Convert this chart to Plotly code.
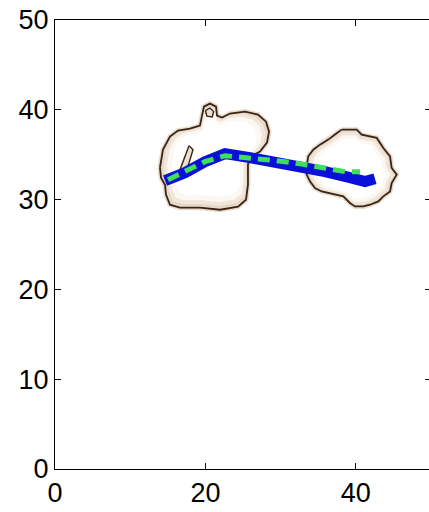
import plotly.graph_objects as go
import numpy as np

# Blob outlines (data units)
blob1_x = [13.96, 14.36, 15.29, 16.36, 17.95, 19.28, 19.55, 19.81, 20.61, 21.41, 21.54, 22.21, 23.27, 25.27,
           26.99, 28.06, 28.46, 28.19, 27.26, 25.93, 25.66, 25.66, 25.40, 24.34, 21.94, 19.28, 16.62, 15.29,
           14.76, 14.63, 14.10]
blob1_y = [33.56, 35.56, 37.01, 37.68, 37.90, 38.24, 39.35, 40.36, 40.69, 40.36, 39.35, 39.13, 39.58, 39.80,
           39.46, 38.68, 37.57, 36.34, 35.34, 34.78, 33.89, 31.66, 29.99, 29.21, 28.87, 29.10, 29.10, 29.43,
           30.55, 31.66, 32.44]
hole1_x = [17.82, 18.35, 17.55, 16.76, 16.62, 17.29]
hole1_y = [36.01, 35.56, 33.33, 32.55, 33.33, 34.89]
knob_x = [20.0, 20.6, 21.1, 20.9, 20.2]
knob_y = [39.9, 40.2, 39.8, 39.2, 39.3]

blob2_x = [38.12, 40.12, 40.78, 42.78, 43.66, 44.55, 44.77, 45.44, 44.77, 44.55, 43.66, 42.99, 41.89, 41.00,
           39.89, 39.23, 38.34, 37.46, 36.34, 35.47, 34.57, 33.91, 33.47, 33.47, 33.68, 34.35, 35.24, 36.34, 37.23]
blob2_y = [37.79, 37.79, 37.24, 36.87, 35.75, 34.82, 33.52, 32.78, 31.85, 30.91, 30.36, 29.80, 29.43, 29.24,
           29.24, 29.62, 30.36, 30.55, 30.74, 30.91, 31.29, 32.03, 32.78, 33.70, 34.82, 35.56, 36.12, 36.68, 37.24]

# Trajectories
blue_x = [14.63, 17.29, 19.95, 22.61, 25.93, 29.26, 32.58, 35.90, 39.23, 41.22, 42.55]
blue_y = [32.11, 33.00, 34.22, 35.12, 34.67, 34.22, 33.67, 33.11, 32.44, 32.00, 32.33]
green_x = [15.03, 17.29, 19.95, 22.61, 25.93, 29.26, 32.58, 35.90, 38.56, 40.56]
green_y = [32.22, 33.11, 34.22, 34.89, 34.67, 34.34, 34.00, 33.56, 33.11, 33.11]

x_ticks = [0, 20, 40]
y_ticks = [0, 10, 20, 30, 40, 50]

fig = go.Figure()


def closed(a):
    return list(a) + [a[0]]


def shrink(xs, ys, f):
    cx, cy = np.mean(xs), np.mean(ys)
    return [cx + (x - cx) * f for x in xs], [cy + (y - cy) * f for y in ys]


for bx, by in [(blob1_x, blob1_y), (blob2_x, blob2_y)]:
    fig.add_trace(go.Scatter(x=closed(bx), y=closed(by), mode="lines", fill="toself",
                             fillcolor="#e2cfbb", line=dict(color="#e8dccf", width=5),
                             hoverinfo="skip", showlegend=False))
    for f, c in [(0.94, "#f1e6da"), (0.87, "#fbf7f2"), (0.78, "#ffffff")]:
        sx, sy = shrink(bx, by, f)
        fig.add_trace(go.Scatter(x=closed(sx), y=closed(sy), mode="lines", fill="toself",
                                 fillcolor=c, line=dict(width=0), hoverinfo="skip", showlegend=False))
    fig.add_trace(go.Scatter(x=closed(bx), y=closed(by), mode="lines",
                             line=dict(color="#3a2414", width=1.8), hoverinfo="skip", showlegend=False))

for hx, hy in [(hole1_x, hole1_y), (knob_x, knob_y)]:
    fig.add_trace(go.Scatter(x=closed(hx), y=closed(hy), mode="lines", fill="toself",
                             fillcolor="#eadfd2", line=dict(color="#3a2414", width=1.4),
                             hoverinfo="skip", showlegend=False))

fig.add_trace(go.Scatter(x=blue_x, y=blue_y, mode="lines",
                         line=dict(color="#0a10d8", width=11), hoverinfo="skip", showlegend=False))
fig.add_trace(go.Scatter(x=green_x, y=green_y, mode="lines",
                         line=dict(color="#3ee05a", width=5, dash="12px,7px"), hoverinfo="skip", showlegend=False))

axis_common = dict(showgrid=False, zeroline=False, showline=True, linecolor="black", linewidth=1,
                   mirror="ticks", ticks="inside", ticklen=6, tickcolor="black", tickwidth=1,
                   tickfont=dict(family="Liberation Sans, Arial, sans-serif", size=27, color="black"))

fig.update_layout(
    width=431, height=512,
    margin=dict(l=55, r=0, t=20, b=43),
    paper_bgcolor="white", plot_bgcolor="white",
    xaxis=dict(range=[0, 50], tickvals=x_ticks, ticktext=[str(v) for v in x_ticks], **axis_common),
    yaxis=dict(range=[0, 50], tickvals=y_ticks, ticktext=[str(v) for v in y_ticks], **axis_common),
)

fig.write_html("out.html", config={"displayModeBar": False},
               post_script="document.body.style.margin='0';document.body.style.overflow='hidden';")
